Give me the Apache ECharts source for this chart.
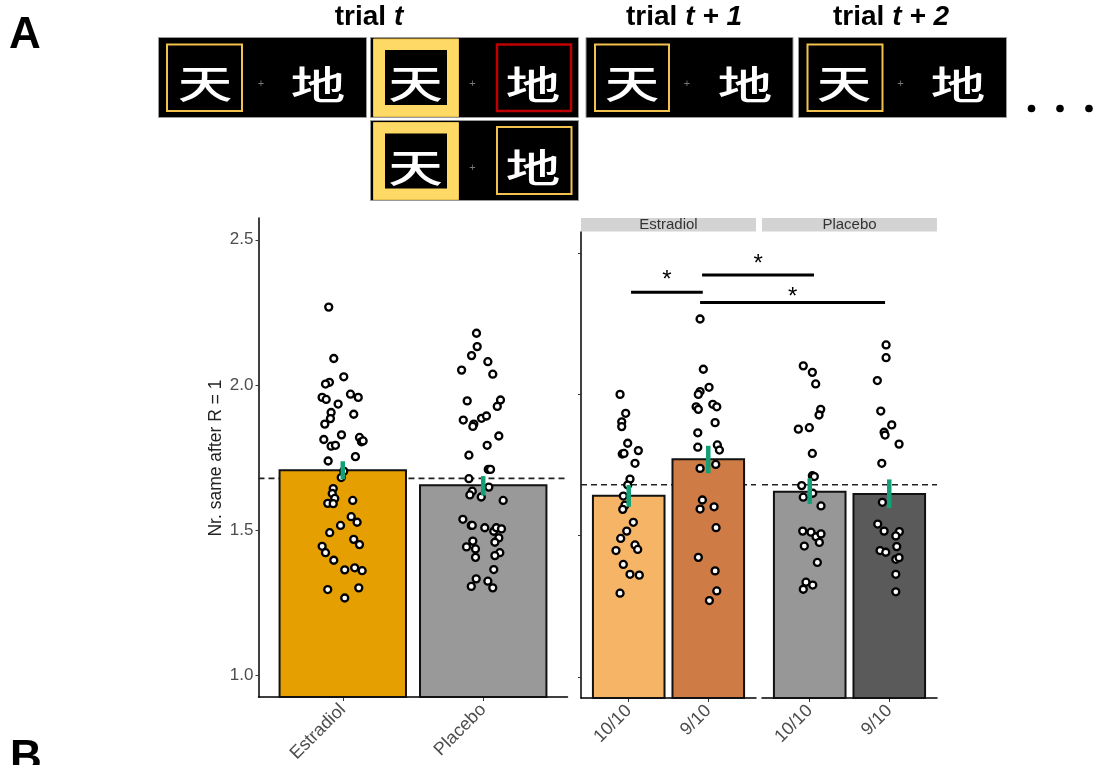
<!DOCTYPE html>
<html><head><meta charset="utf-8">
<script src="https://cdn.jsdelivr.net/npm/echarts@6/dist/echarts.min.js"></script>
<style>html,body{margin:0;padding:0;background:#fff}#c{width:1094px;height:765px}</style>
</head><body><div id="c"></div>
<script>
// ---------- DATA ----------
const groupCats = ['Estradiol', 'Placebo'];
const ratioCats = ['10/10', '9/10'];
const yTicks = [1.0, 1.5, 2.0, 2.5];
const yTitle = 'Nr. same after R = 1';

// left panel (drug groups)
const leftMeans = [1.706, 1.654];
const leftErrLow = [1.675, 1.619];
const leftErrHigh = [1.737, 1.686];
const leftRef = 1.678;

// right panel (facets by drug, bars by ratio)
const estMeans = [1.641, 1.770];
const estErrLow = [1.602, 1.721];
const estErrHigh = [1.679, 1.818];
const plaMeans = [1.655, 1.647];
const plaErrLow = [1.612, 1.597];
const plaErrHigh = [1.703, 1.699];
const rightRef = 1.680;

// individual participants [jittered x, value]
const ptsLeftEstradiol = [
 [0.900,2.268],[0.936,2.091],[1.007,2.028],[0.905,2.009],[0.877,2.003],[0.853,1.957],[0.882,1.950],
 [1.055,1.968],[1.110,1.957],[0.967,1.934],[0.917,1.905],[1.078,1.899],[0.912,1.884],[0.872,1.865],
 [0.991,1.828],[0.865,1.812],[0.917,1.789],[0.948,1.792],[1.119,1.819],[1.133,1.804],[1.145,1.807],
 [0.896,1.738],[1.090,1.753],[1.007,1.703],[0.989,1.681],[0.932,1.643],[0.925,1.626],[0.943,1.609],
 [0.893,1.592],[0.932,1.591],[1.071,1.602],[1.060,1.546],[1.102,1.527],[0.984,1.516],[0.907,1.491],
 [1.078,1.468],[1.119,1.450],[0.853,1.444],[0.877,1.422],[0.936,1.396],[1.014,1.363],[1.085,1.370],
 [1.138,1.360],[0.893,1.295],[1.114,1.301],[1.014,1.266]
];
const ptsLeftPlacebo = [
 [1.952,2.178],[1.957,2.132],[1.917,2.101],[2.033,2.080],[1.846,2.051],[2.068,2.037],[1.886,1.945],
 [2.123,1.948],[2.100,1.926],[1.858,1.879],[1.933,1.865],[1.926,1.857],[1.988,1.885],[2.023,1.893],
 [2.111,1.824],[2.028,1.792],[1.898,1.758],[2.036,1.709],[2.052,1.709],[1.898,1.677],[2.040,1.648],
 [1.922,1.634],[1.905,1.621],[1.986,1.614],[2.142,1.602],[1.855,1.537],[1.915,1.516],[1.922,1.516],
 [2.011,1.508],[2.075,1.496],[2.093,1.508],[2.130,1.504],[2.111,1.473],[2.083,1.458],[1.926,1.462],
 [1.881,1.442],[1.945,1.435],[2.118,1.422],[2.083,1.412],[1.945,1.406],[2.075,1.364],[1.950,1.332],
 [1.915,1.306],[2.033,1.324],[2.068,1.301]
];
const ptsEst1010 = [
 [0.891,2.000],[0.962,1.933],[0.912,1.903],[0.912,1.886],[0.987,1.827],[1.121,1.801],[0.919,1.789],
 [0.941,1.791],[1.079,1.756],[1.016,1.700],[0.987,1.679],[0.932,1.640],[0.953,1.608],[0.925,1.593],
 [1.058,1.547],[0.975,1.516],[0.899,1.490],[1.079,1.467],[1.113,1.451],[0.840,1.447],[0.932,1.398],
 [1.016,1.363],[1.133,1.360],[0.891,1.296]
];
const ptsEst910 = [
 [1.897,2.267],[1.938,2.089],[2.010,2.025],[1.897,2.010],[1.875,2.000],[2.057,1.965],[2.107,1.956],
 [1.847,1.956],[1.875,1.947],[2.086,1.900],[1.868,1.864],[1.868,1.813],[2.114,1.821],[2.140,1.803],
 [1.897,1.738],[2.094,1.752],[1.926,1.626],[1.897,1.594],[2.073,1.602],[2.098,1.528],[1.875,1.423],
 [2.086,1.375],[2.107,1.304],[2.014,1.270]
];
const ptsPla1010 = [
 [0.919,2.101],[1.033,2.078],[1.075,2.037],[1.138,1.947],[1.117,1.927],[0.857,1.877],[0.995,1.882],
 [1.033,1.791],[1.033,1.712],[1.058,1.709],[0.899,1.677],[1.038,1.650],[0.919,1.636],[1.142,1.605],
 [0.912,1.516],[1.016,1.512],[1.079,1.496],[1.142,1.506],[1.121,1.476],[0.932,1.463],[1.096,1.405],
 [0.953,1.335],[1.038,1.325],[0.919,1.310]
];
const ptsPla910 = [
 [1.960,2.175],[1.960,2.130],[1.850,2.049],[1.893,1.941],[2.031,1.892],[1.935,1.866],[1.947,1.856],
 [2.123,1.824],[1.906,1.756],[1.913,1.618],[1.855,1.541],[1.935,1.516],[2.127,1.514],[2.082,1.499],
 [2.094,1.461],[1.884,1.447],[1.956,1.441],[2.082,1.416],[2.123,1.422],[2.082,1.363],[2.082,1.301]
];

// significance brackets: [fromPanel, fromX, toPanel, toX, lineY, starY]
const sigBrackets = [
 ['Estradiol', 1.029, 'Estradiol', 1.931, 2.362, 2.425],
 ['Estradiol', 1.922, 'Placebo', 1.054, 2.423, 2.482],
 ['Estradiol', 1.897, 'Placebo', 1.947, 2.325, 2.364]
];

// ---------- STYLE ----------
const leftColors = ['#E69F00', '#999999'];
const estColors = ['#F5B466', '#CE7B45'];
const plaColors = ['#979797', '#5A5A5A'];
const errColor = '#14A077';
const Y_MIN = 0.925, Y_MAX = 2.575, X_MIN = 0.4, X_MAX = 2.6;
const FONT = '"Liberation Sans", Arial, sans-serif';

const chart = echarts.init(document.getElementById('c'), null, {renderer: 'canvas'});

function xAxisCfg(gi, cats) {
  return {
    gridIndex: gi, type: 'value', min: X_MIN, max: X_MAX,
    axisLine: {show: true, onZero: false, lineStyle: {color: '#000', width: 1.5}},
    axisTick: {show: true, customValues: [1, 2], length: 4, lineStyle: {color: '#333', width: 1}},
    axisLabel: {show: true, customValues: [1, 2], formatter: v => cats[Math.round(v) - 1],
      rotate: 45, fontSize: 18, color: '#4D4D4D', fontFamily: FONT, margin: 10},
    splitLine: {show: false}
  };
}
function yAxisCfg(gi, showLine, showLabels) {
  return {
    gridIndex: gi, type: 'value', min: Y_MIN, max: Y_MAX,
    axisLine: {show: showLine, onZero: false, lineStyle: {color: '#000', width: 1.5}},
    axisTick: {show: showLine, customValues: yTicks, length: 3, lineStyle: {color: '#333', width: 1}},
    axisLabel: {show: showLabels, customValues: yTicks, formatter: v => v.toFixed(1),
      fontSize: 17, color: '#4D4D4D', fontFamily: FONT, margin: 5},
    splitLine: {show: false}
  };
}
function barSeries(gi, means, colors) {
  return {
    type: 'custom', xAxisIndex: gi, yAxisIndex: gi, z: 2, silent: true,
    data: means.map((m, i) => [i + 1, m, i]),
    renderItem: (params, api) => {
      const x = api.value(0), y = api.value(1);
      const p1 = api.coord([x - 0.45, y]);
      const p2 = api.coord([x + 0.45, Y_MIN]);
      return {type: 'rect', shape: {x: p1[0], y: p1[1], width: p2[0] - p1[0], height: p2[1] - p1[1]},
        style: {fill: colors[api.value(2)], stroke: '#111', lineWidth: 2}};
    }
  };
}
function refSeries(gi, v) {
  return {type: 'line', xAxisIndex: gi, yAxisIndex: gi, z: 1, silent: true, symbol: 'none',
    data: [[X_MIN, v], [X_MAX, v]], lineStyle: {color: '#222', width: 1.6, type: [6, 4]}};
}
function ptSeries(gi, pts) {
  return {type: 'scatter', xAxisIndex: gi, yAxisIndex: gi, z: 3, silent: true, data: pts,
    symbolSize: 7, itemStyle: {color: '#fff', borderColor: '#000', borderWidth: 2.3, opacity: 1}};
}
function errSeries(gi, lows, highs) {
  return {
    type: 'custom', xAxisIndex: gi, yAxisIndex: gi, z: 4, silent: true,
    data: lows.map((l, i) => [i + 1, l, highs[i]]),
    renderItem: (params, api) => {
      const a = api.coord([api.value(0), api.value(1)]);
      const b = api.coord([api.value(0), api.value(2)]);
      return {type: 'line', shape: {x1: a[0], y1: a[1], x2: b[0], y2: b[1]},
        style: {stroke: errColor, lineWidth: 4.5, lineCap: 'butt'}};
    }
  };
}

// ---------- TOP PANEL (task schematic) ----------
const topG = [];
function box(x, y, w, h) { topG.push({type: 'rect', shape: {x, y, width: w, height: h}, style: {fill: '#000', stroke: '#999', lineWidth: 1}}); }
function frame(x, y, w, h, c, lw) { topG.push({type: 'rect', shape: {x, y, width: w, height: h}, style: {fill: null, stroke: c, lineWidth: lw}}); }
function filled(x, y, w, h) {
  topG.push({type: 'rect', shape: {x, y, width: w, height: h}, style: {fill: '#FFD966', stroke: '#E8C04F', lineWidth: 1}});
}
function ch(t, cx, cy) {
  topG.push({type: 'text', x: cx, y: cy, scaleX: 1.05, scaleY: 0.74, z: 10,
    style: {text: t, x: 0, y: 0, fill: '#fff', fontSize: 52, fontWeight: 500, fontFamily: '"Noto Sans CJK SC"',
      align: 'center', verticalAlign: 'middle', textAlign: 'center', textVerticalAlign: 'middle'}});
}
function plus(cx, cy) {
  topG.push({type: 'text', x: cx, y: cy, style: {text: '+', x: 0, y: 0, fill: '#777', fontSize: 11, fontFamily: FONT,
    align: 'center', verticalAlign: 'middle', textAlign: 'center', textVerticalAlign: 'middle'}});
}
function title(parts, cx) {
  topG.push({type: 'text', x: cx, y: 17, style: {text: '{n|trial} {i|' + parts + '}', x: 0, y: 0,
    align: 'center', verticalAlign: 'middle', textAlign: 'center', textVerticalAlign: 'middle',
    rich: {n: {fontSize: 28, fontWeight: 'bold', fontFamily: FONT, fill: '#000', color: '#000'},
           i: {fontSize: 28, fontWeight: 'bold', fontStyle: 'italic', fontFamily: FONT, fill: '#000', color: '#000'}},
    fontSize: 28, fontWeight: 'bold', fontFamily: FONT, fill: '#000'}});
}
// box 1
box(158.5, 37.5, 208, 80); frame(167, 44.5, 75, 66.5, '#F2C14E', 2); ch('天', 205, 83); plus(261, 84); ch('地', 318, 84);
// box 2
box(370.5, 37.5, 208, 80); filled(373.5, 39, 85, 77.5);
topG.push({type: 'rect', shape: {x: 385, y: 50, width: 62, height: 55}, style: {fill: '#000'}});
ch('天', 415.5, 83); plus(472.5, 84); frame(497, 44.5, 74, 66.5, '#C00000', 2.5); ch('地', 533, 84);
// box 3
box(370.5, 120.5, 208, 80); filled(373.5, 122.5, 85, 77);
topG.push({type: 'rect', shape: {x: 385, y: 133.5, width: 62, height: 55}, style: {fill: '#000'}});
ch('天', 415.5, 167); plus(472.5, 168); frame(497, 127, 74.5, 67, '#F2C14E', 2); ch('地', 533, 167);
// box 4
box(586, 37.5, 207, 80); frame(595, 44.5, 74, 66.5, '#F2C14E', 2); ch('天', 632, 83); plus(687, 84); ch('地', 745, 84);
// box 5
box(798.5, 37.5, 208, 80); frame(807.5, 44.5, 75, 66.5, '#F2C14E', 2); ch('天', 844, 83); plus(900.5, 84); ch('地', 958, 84);
// dots
[1031.5, 1060, 1089].forEach(x => topG.push({type: 'circle', shape: {cx: x, cy: 108.5, r: 3.8}, style: {fill: '#000'}}));
title('t', 369); title('t + 1', 684); title('t + 2', 891);
// panel letters
topG.push({type: 'text', x: 25, y: 36, style: {text: 'A', x: 0, y: 0, fontSize: 44, fontWeight: 'bold', fontFamily: FONT, fill: '#000',
  align: 'center', verticalAlign: 'middle', textAlign: 'center', textVerticalAlign: 'middle'}});
topG.push({type: 'text', x: 26, y: 759, style: {text: 'B', x: 0, y: 0, fontSize: 44, fontWeight: 'bold', fontFamily: FONT, fill: '#000',
  align: 'center', verticalAlign: 'middle', textAlign: 'center', textVerticalAlign: 'middle'}});
// y axis title
topG.push({type: 'text', x: 216.5, y: 458, rotation: Math.PI / 2, style: {text: yTitle, x: 0, y: 0, fontSize: 17.5,
  fontFamily: FONT, fill: '#222', align: 'center', verticalAlign: 'middle', textAlign: 'center', textVerticalAlign: 'middle'}});
// facet strips
[[581, 'Estradiol'], [762, 'Placebo']].forEach(([x, t], i) => {
  topG.push({type: 'rect', shape: {x: x, y: 218, width: 175, height: 13.5}, style: {fill: '#D3D3D3'}});
  topG.push({type: 'text', x: x + 87.5, y: 225, style: {text: groupCats[i], x: 0, y: 0, fontSize: 15, fontFamily: FONT, fill: '#333',
    align: 'center', verticalAlign: 'middle', textAlign: 'center', textVerticalAlign: 'middle'}});
});

// ---------- OPTION ----------
const option = {
  animation: false,
  backgroundColor: '#fff',
  grid: [
    {left: 258.5, top: 218, width: 309, height: 480},
    {left: 581, top: 232, width: 175, height: 466},
    {left: 762, top: 232, width: 175, height: 466}
  ],
  xAxis: [xAxisCfg(0, groupCats), xAxisCfg(1, ratioCats), xAxisCfg(2, ratioCats)],
  yAxis: [yAxisCfg(0, true, true), yAxisCfg(1, true, false), yAxisCfg(2, false, false)],
  series: [
    refSeries(0, leftRef), barSeries(0, leftMeans, leftColors),
    ptSeries(0, ptsLeftEstradiol), ptSeries(0, ptsLeftPlacebo), errSeries(0, leftErrLow, leftErrHigh),
    refSeries(1, rightRef), barSeries(1, estMeans, estColors),
    ptSeries(1, ptsEst1010), ptSeries(1, ptsEst910), errSeries(1, estErrLow, estErrHigh),
    refSeries(2, rightRef), barSeries(2, plaMeans, plaColors),
    ptSeries(2, ptsPla1010), ptSeries(2, ptsPla910), errSeries(2, plaErrLow, plaErrHigh)
  ],
  graphic: topG
};
chart.setOption(option);

// significance brackets placed through the facet grids' scales
const panelGrid = {Estradiol: 1, Placebo: 2};
const sigG = [];
sigBrackets.forEach(([fp, fx, tp, tx, ly, sy]) => {
  const a = chart.convertToPixel({gridIndex: panelGrid[fp]}, [fx, ly]);
  const b = chart.convertToPixel({gridIndex: panelGrid[tp]}, [tx, ly]);
  const s = chart.convertToPixel({gridIndex: panelGrid[fp]}, [fx, sy]);
  sigG.push({type: 'line', z: 20, shape: {x1: a[0], y1: a[1], x2: b[0], y2: b[1]}, style: {stroke: '#000', lineWidth: 3}});
  sigG.push({type: 'text', z: 20, x: (a[0] + b[0]) / 2, y: s[1] + 6, style: {text: '*', x: 0, y: 0, fontSize: 24, fontFamily: FONT,
    fill: '#000', align: 'center', verticalAlign: 'middle', textAlign: 'center', textVerticalAlign: 'middle'}});
});
option.graphic = topG.concat(sigG);
chart.setOption(option, true);
</script></body></html>
